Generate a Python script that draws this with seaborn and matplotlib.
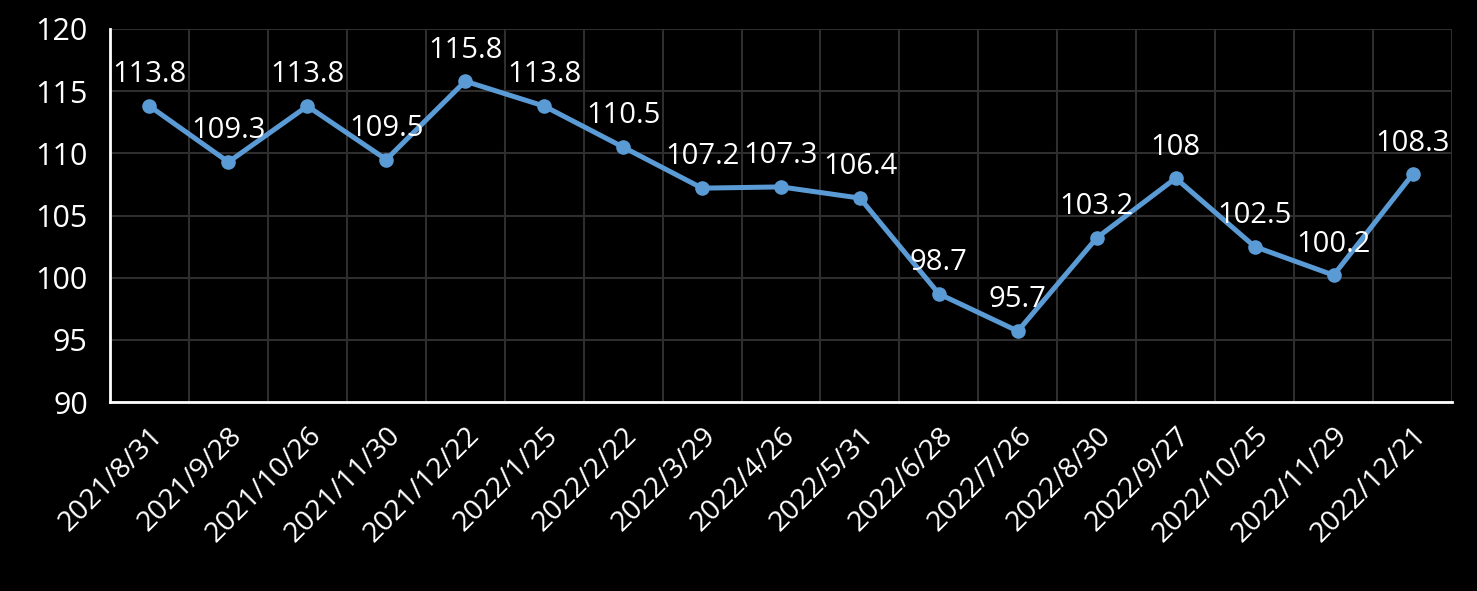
import matplotlib
matplotlib.use("Agg")
import matplotlib.pyplot as plt
import seaborn as sns
import pandas as pd
import numpy as np
from matplotlib.ticker import FixedLocator, NullFormatter, FixedFormatter

dates = ["2021/8/31", "2021/9/28", "2021/10/26", "2021/11/30", "2021/12/22",
         "2022/1/25", "2022/2/22", "2022/3/29", "2022/4/26", "2022/5/31",
         "2022/6/28", "2022/7/26", "2022/8/30", "2022/9/27", "2022/10/25",
         "2022/11/29", "2022/12/21"]
values = [113.8, 109.3, 113.8, 109.5, 115.8, 113.8, 110.5, 107.2, 107.3, 106.4,
          98.7, 95.7, 103.2, 108, 102.5, 100.2, 108.3]
value_labels = ["113.8", "109.3", "113.8", "109.5", "115.8", "113.8", "110.5",
                "107.2", "107.3", "106.4", "98.7", "95.7", "103.2", "108",
                "102.5", "100.2", "108.3"]
y_ticks = [90, 95, 100, 105, 110, 115, 120]

sns.set_style("dark")
plt.rcParams['font.family'] = ['Open Sans', 'DejaVu Sans']

df = pd.DataFrame({"pos": np.arange(len(dates)), "value": values})

fig = plt.figure(figsize=(14.77, 5.91), dpi=100, facecolor="black")
ax = fig.add_axes([110/1477, 1-402/591, (1452-110)/1477, (402-29)/591])
ax.set_facecolor("black")

sns.lineplot(data=df, x="pos", y="value", ax=ax, color="#5B9BD5", linewidth=3.6,
             marker="o", markersize=10.5, markeredgewidth=0, zorder=3)

ax.set_xlim(-0.5, len(dates) - 0.5)
ax.set_ylim(90, 120)
ax.set_yticks(y_ticks)
ax.set_yticklabels([str(t) for t in y_ticks], color="white", fontsize=22)

# major ticks at category boundaries (grid + tick marks), minor at centers (labels)
bounds = np.arange(len(dates) + 1) - 0.5
ax.xaxis.set_major_locator(FixedLocator(bounds))
ax.xaxis.set_major_formatter(NullFormatter())
ax.xaxis.set_minor_locator(FixedLocator(np.arange(len(dates))))
ax.xaxis.set_minor_formatter(FixedFormatter(dates))
ax.tick_params(axis="x", which="major", length=10, width=2, color="white", direction="out")
ax.tick_params(axis="x", which="minor", length=0, labelsize=20.5, labelcolor="white", pad=14)
ax.tick_params(axis="y", length=0, pad=16)
for lab in ax.xaxis.get_minorticklabels():
    lab.set_rotation(45)
    lab.set_ha("right")
    lab.set_va("top")
    lab.set_rotation_mode("anchor")

ax.grid(True, which="major", color="#2e2e2e", linewidth=1.5)
ax.set_axisbelow(True)

for s in ["top", "right"]:
    ax.spines[s].set_visible(False)
for s in ["left", "bottom"]:
    ax.spines[s].set_visible(True)
    ax.spines[s].set_color("white")
    ax.spines[s].set_linewidth(2)

ax.set_xlabel("")
ax.set_ylabel("")

for i, (v, t) in enumerate(zip(values, value_labels)):
    ax.annotate(t, (i, v), xytext=(0, 12), textcoords="offset points",
                ha="center", va="bottom", color="white", fontsize=21, zorder=4)

fig.savefig("out.png", dpi=100, facecolor="black")
